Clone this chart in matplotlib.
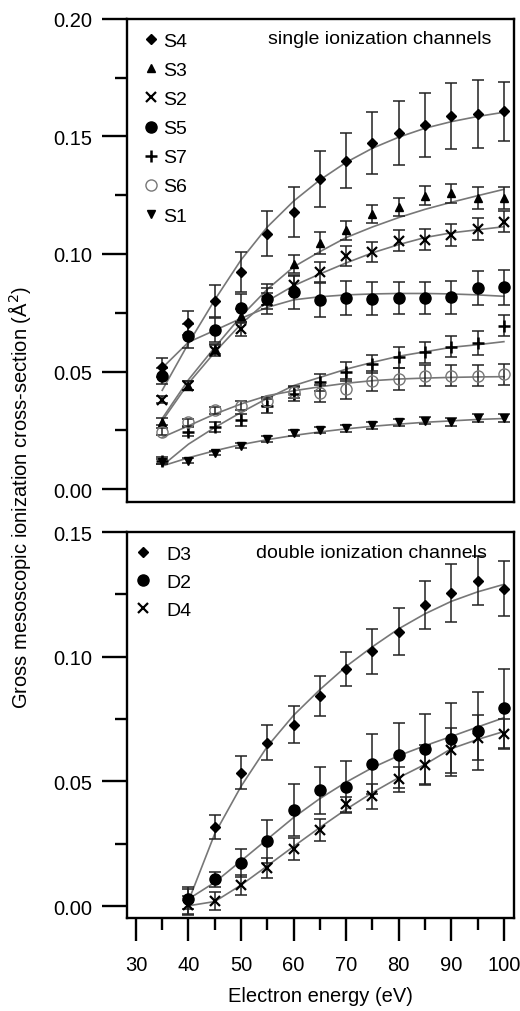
import matplotlib
matplotlib.use("Agg")
import matplotlib.pyplot as plt
from matplotlib.lines import Line2D

plt.rcParams['font.family'] = ['Liberation Sans', 'DejaVu Sans']

# ---- single ionization channels ----
E_s = [35, 40, 45, 50, 55, 60, 65, 70, 75, 80, 85, 90, 95, 100]

S4 = [0.0518, 0.0706, 0.080, 0.0922, 0.1086, 0.118, 0.132, 0.1397, 0.1472, 0.1515, 0.1549, 0.1586, 0.1596, 0.1607]
S4_err = [0.004, 0.005, 0.007, 0.0085, 0.0095, 0.0107, 0.012, 0.0118, 0.013, 0.0135, 0.0138, 0.014, 0.0143, 0.0125]
S4_fit = [0.042, 0.062, 0.0805, 0.0975, 0.1115, 0.1225, 0.1315, 0.139, 0.145, 0.1497, 0.1535, 0.1563, 0.1585, 0.1603]

S3 = [0.0287, 0.044, 0.0596, 0.0738, 0.082, 0.0957, 0.1047, 0.110, 0.117, 0.120, 0.1248, 0.1258, 0.1238, 0.1238]
S3_err = [0.0015, 0.002, 0.002, 0.003, 0.0035, 0.004, 0.0045, 0.0042, 0.004, 0.004, 0.004, 0.004, 0.0045, 0.0045]
S3_fit = [0.030, 0.0465, 0.0603, 0.0735, 0.085, 0.0945, 0.101, 0.107, 0.1115, 0.1155, 0.119, 0.122, 0.1248, 0.1275]

S2 = [0.0379, 0.044, 0.0589, 0.068, 0.080, 0.087, 0.0925, 0.099, 0.1007, 0.1057, 0.1061, 0.1081, 0.1106, 0.1138]
S2_err = [0.0015, 0.002, 0.0025, 0.003, 0.0035, 0.004, 0.0043, 0.0043, 0.0043, 0.0046, 0.0045, 0.0045, 0.0045, 0.0043]
S2_fit = [0.029, 0.045, 0.0582, 0.0702, 0.080, 0.0865, 0.0915, 0.0962, 0.1005, 0.104, 0.107, 0.109, 0.1103, 0.1116]

S5 = [0.0482, 0.0652, 0.0677, 0.077, 0.0809, 0.0837, 0.0804, 0.0811, 0.0809, 0.0813, 0.0811, 0.0816, 0.0855, 0.0858]
S5_err = [0.0035, 0.005, 0.005, 0.006, 0.0065, 0.007, 0.0072, 0.0072, 0.007, 0.0068, 0.0068, 0.007, 0.0072, 0.0075]
S5_fit = [0.0515, 0.0625, 0.0675, 0.0726, 0.0773, 0.0805, 0.0818, 0.0826, 0.083, 0.0832, 0.0832, 0.083, 0.0826, 0.082]

S7 = [0.012, 0.0244, 0.0264, 0.0294, 0.0355, 0.0404, 0.0454, 0.0499, 0.0532, 0.056, 0.0582, 0.0606, 0.0621, 0.0695]
S7_err = [0.0015, 0.002, 0.002, 0.0025, 0.003, 0.003, 0.0035, 0.004, 0.004, 0.0045, 0.0045, 0.0045, 0.005, 0.0045]
S7_fit = [0.0099, 0.0191, 0.0262, 0.0326, 0.0386, 0.044, 0.0475, 0.051, 0.0539, 0.0565, 0.0584, 0.0603, 0.0614, 0.0627]

S6 = [0.0244, 0.0284, 0.0336, 0.0355, 0.0373, 0.0414, 0.0407, 0.0426, 0.0461, 0.0468, 0.0482, 0.0482, 0.0482, 0.0489]
S6_err = [0.0015, 0.0015, 0.0015, 0.002, 0.002, 0.0025, 0.0035, 0.0042, 0.0043, 0.0045, 0.0045, 0.0045, 0.0045, 0.0045]
S6_fit = [0.022, 0.0269, 0.0319, 0.0362, 0.0397, 0.0418, 0.0435, 0.045, 0.0461, 0.0468, 0.0472, 0.0475, 0.0477, 0.0478]

S1 = [0.0117, 0.012, 0.0153, 0.0184, 0.0213, 0.0237, 0.0251, 0.0258, 0.0272, 0.0284, 0.0291, 0.0286, 0.0301, 0.0301]
S1_err = [0.001, 0.001, 0.001, 0.001, 0.0012, 0.0013, 0.0013, 0.0014, 0.0015, 0.0015, 0.0015, 0.0016, 0.0017, 0.0017]
S1_fit = [0.0098, 0.0133, 0.0163, 0.0189, 0.021, 0.0228, 0.0243, 0.0256, 0.0267, 0.0276, 0.0284, 0.029, 0.0296, 0.030]

# ---- double ionization channels ----
E_d = [40, 45, 50, 55, 60, 65, 70, 75, 80, 85, 90, 95, 100]

D3 = [0.002, 0.0317, 0.0535, 0.0655, 0.0728, 0.0841, 0.0952, 0.1021, 0.1101, 0.1208, 0.1255, 0.1304, 0.1273]
D3_err = [0.0055, 0.005, 0.0067, 0.007, 0.0075, 0.008, 0.0068, 0.009, 0.0094, 0.0096, 0.0115, 0.0098, 0.011]
D3_fit = [0.002, 0.029, 0.048, 0.064, 0.0765, 0.0868, 0.0961, 0.104, 0.1112, 0.1172, 0.1222, 0.126, 0.129]

D2 = [0.0028, 0.0108, 0.0172, 0.0259, 0.0385, 0.0464, 0.0477, 0.0568, 0.0604, 0.0631, 0.0668, 0.0701, 0.0793]
D2_err = [0.004, 0.003, 0.0056, 0.0085, 0.0105, 0.0095, 0.0105, 0.012, 0.013, 0.0141, 0.0147, 0.0156, 0.0158]
D2_fit = [0.0028, 0.0095, 0.0181, 0.0268, 0.0355, 0.0431, 0.0497, 0.0555, 0.0603, 0.0643, 0.068, 0.0718, 0.0755]

D4 = [0.0004, 0.0021, 0.0084, 0.0151, 0.0228, 0.0304, 0.0408, 0.0441, 0.0508, 0.0564, 0.0625, 0.0675, 0.0691]
D4_err = [0.0036, 0.0036, 0.004, 0.004, 0.0045, 0.0045, 0.003, 0.005, 0.005, 0.008, 0.009, 0.009, 0.006]
D4_fit = [0.0001, 0.0018, 0.0084, 0.0161, 0.0239, 0.0315, 0.0388, 0.0455, 0.0515, 0.0568, 0.0631, 0.0668, 0.070]

FIT = '#777777'
ERR = '#222222'

single = [
    ('S4', S4, S4_err, S4_fit, dict(marker='D', ms=5, mfc='k', mec='k')),
    ('S3', S3, S3_err, S3_fit, dict(marker='^', ms=6, mfc='k', mec='k')),
    ('S2', S2, S2_err, S2_fit, dict(marker='x', ms=6.5, mec='k', mew=1.6)),
    ('S5', S5, S5_err, S5_fit, dict(marker='o', ms=8, mfc='k', mec='k')),
    ('S7', S7, S7_err, S7_fit, dict(marker='+', ms=8, mec='k', mew=1.8)),
    ('S6', S6, S6_err, S6_fit, dict(marker='o', ms=8, mfc='none', mec='#777777', mew=1)),
    ('S1', S1, S1_err, S1_fit, dict(marker='v', ms=6, mfc='k', mec='k')),
]
double = [
    ('D3', D3, D3_err, D3_fit, dict(marker='D', ms=5, mfc='k', mec='k')),
    ('D2', D2, D2_err, D2_fit, dict(marker='o', ms=8, mfc='k', mec='k')),
    ('D4', D4, D4_err, D4_fit, dict(marker='x', ms=6.5, mec='k', mew=1.6)),
]

fig = plt.figure(figsize=(5.2, 10.12), dpi=100)
ax1 = fig.add_axes([0.2442, 0.503, 0.744, 0.4773])
ax2 = fig.add_axes([0.2442, 0.0919, 0.744, 0.3814])


def draw(ax, E, series):
    handles = []
    for name, y, err, fit, style in series:
        ax.plot(E, fit, color=FIT, lw=1.2, zorder=1)
        ax.errorbar(E, y, yerr=err, fmt='none', ecolor=ERR, elinewidth=1.1,
                    capsize=4.5, capthick=1.1, zorder=2)
        ax.plot(E, y, ls='none', zorder=3, **style)
        handles.append(Line2D([], [], ls='none', **style))
    return handles


h1 = draw(ax1, E_s, single)
h2 = draw(ax2, E_d, double)

for ax in (ax1, ax2):
    ax.set_xlim(28.3, 101.9)
    for sp in ax.spines.values():
        sp.set_linewidth(1.7)
    ax.tick_params(axis='y', which='major', direction='out', length=18, width=1.7,
                   labelsize=14.5, pad=7)
    ax.tick_params(axis='y', which='minor', direction='out', length=8.5, width=1.7)

ax1.set_ylim(-0.0055, 0.2)
ax1.set_yticks([0.0, 0.05, 0.10, 0.15, 0.20])
ax1.set_yticks([0.025, 0.075, 0.125, 0.175], minor=True)
ax1.set_yticklabels(['0.00', '0.05', '0.10', '0.15', '0.20'])
ax1.tick_params(axis='x', which='both', bottom=False, labelbottom=False)

ax2.set_ylim(-0.0048, 0.15)
ax2.set_yticks([0.0, 0.05, 0.10, 0.15])
ax2.set_yticks([0.025, 0.075, 0.125], minor=True)
ax2.set_yticklabels(['0.00', '0.05', '0.10', '0.15'])
ax2.set_xticks([30, 40, 50, 60, 70, 80, 90, 100])
ax2.set_xticks([35, 45, 55, 65, 75, 85, 95], minor=True)
ax2.tick_params(axis='x', which='major', direction='out', length=16.5, width=1.7,
                labelsize=14.5, pad=10)
ax2.tick_params(axis='x', which='minor', direction='out', length=8.5, width=1.7)
ax2.set_xlabel('Electron energy (eV)', fontsize=14.5, labelpad=9)

ax1.legend(h1, [s[0] for s in single], loc='upper left', bbox_to_anchor=(0.042, 0.972),
           frameon=False, fontsize=14, handlelength=0.8, handletextpad=0.22,
           labelspacing=0.59, borderaxespad=0, borderpad=0)
ax2.legend(h2, [s[0] for s in double], loc='upper left', bbox_to_anchor=(0.021, 0.965),
           frameon=False, fontsize=14, handlelength=0.8, handletextpad=0.79,
           labelspacing=0.53, borderaxespad=0, borderpad=0)

ax1.text(0.943, 0.9586, 'single ionization channels', transform=ax1.transAxes,
         ha='right', va='center', fontsize=14)
ax2.text(0.930, 0.948, 'double ionization channels', transform=ax2.transAxes,
         ha='right', va='center', fontsize=14)

fig.text(0.038, 0.508, 'Gross mesoscopic ionization cross-section (Å$^2$)',
         rotation=90, ha='center', va='center', fontsize=14.5)

fig.savefig('out.png', dpi=100)
